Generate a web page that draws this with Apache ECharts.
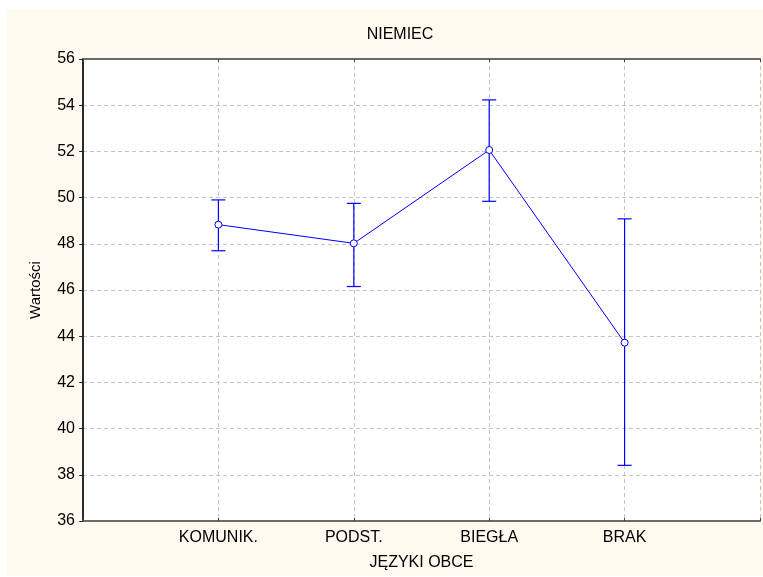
<!DOCTYPE html>
<html>
<head>
<meta charset="utf-8">
<script src="https://cdn.jsdelivr.net/npm/echarts@6/dist/echarts.min.js"></script>
<style>
html,body{margin:0;padding:0;background:#ffffff;}
#chart{width:763px;height:577px;}
</style>
</head>
<body>
<div id="chart"></div>
<script>
const categories = ['KOMUNIK.', 'PODST.', 'BIEGŁA', 'BRAK'];
const means = [48.83, 48.02, 52.06, 43.72];
const lower = [47.70, 46.15, 49.84, 38.41];
const upper = [49.90, 49.75, 54.23, 49.08];
const yTicks = [36, 38, 40, 42, 44, 46, 48, 50, 52, 54, 56];

const FONT = '"Liberation Sans", Arial, sans-serif';
const chart = echarts.init(document.getElementById('chart'), null, {renderer: 'canvas'});

const lineData = means.map((v, i) => [i + 1, v]);
const errData = categories.map((c, i) => [i + 1, lower[i], upper[i]]);
const yMin = yTicks[0], yMax = yTicks[yTicks.length - 1];

chart.setOption({
  animation: false,
  backgroundColor: 'transparent',
  graphic: [{
    type: 'rect', z: -10, silent: true,
    shape: {x: 7, y: 10, width: 756, height: 566},
    style: {fill: '#fffaf0'}
  }],
  title: {
    text: 'NIEMIEC',
    left: 395, top: 22, textAlign: 'center',
    textStyle: {fontFamily: FONT, fontSize: 16, fontWeight: 'normal', color: '#000'}
  },
  grid: {
    left: 83, top: 59, right: 3, bottom: 56,
    show: true, borderColor: '#6a6a6a', borderWidth: 0, backgroundColor: '#ffffff'
  },
  xAxis: [{
    type: 'value', min: 0, max: 5, interval: 1,
    name: 'JĘZYKI OBCE', nameLocation: 'middle', nameGap: 34,
    nameTextStyle: {fontFamily: FONT, fontSize: 16, color: '#000'},
    axisLine: {show: true, lineStyle: {color: '#6a6a6a', width: 2}},
    axisTick: {show: true, inside: true, length: 3, lineStyle: {color: '#444'}},
    axisLabel: {
      margin: 9, fontFamily: FONT, fontSize: 16, color: '#000',
      formatter: v => categories[v - 1] || ''
    },
    splitLine: {show: true, lineStyle: {color: '#c4c4c4', type: [4, 3], width: 1}}
  }, {
    type: 'value', min: 0, max: 5, interval: 1, position: 'top',
    axisLine: {show: true, lineStyle: {color: '#6a6a6a', width: 2}},
    axisTick: {show: true, inside: true, length: 3, lineStyle: {color: '#444'}},
    axisLabel: {show: false}, splitLine: {show: false}
  }],
  yAxis: [{
    type: 'value', min: yMin, max: yMax, interval: 2,
    name: 'Wartości', nameLocation: 'middle', nameGap: 40,
    nameTextStyle: {fontFamily: FONT, fontSize: 15, color: '#000'},
    axisLine: {show: true, lineStyle: {color: '#6a6a6a', width: 2}},
    axisTick: {show: true, inside: false, length: 4, lineStyle: {color: '#444'}},
    axisLabel: {margin: 8, fontFamily: FONT, fontSize: 16, color: '#000'},
    splitLine: {show: true, lineStyle: {color: '#c4c4c4', type: [4, 3], width: 1}}
  }, {
    type: 'value', min: yMin, max: yMax, interval: 2, position: 'right',
    axisLine: {show: true, lineStyle: {color: '#2a2a2a', width: 2}},
    axisTick: {show: true, inside: true, length: 3, lineStyle: {color: '#222'}},
    axisLabel: {show: false}, splitLine: {show: false}
  }],
  series: [
    {
      type: 'custom',
      data: errData,
      z: 3,
      renderItem: function (params, api) {
        const x = api.value(0);
        const lo = api.coord([x, api.value(1)]);
        const hi = api.coord([x, api.value(2)]);
        const w = 7;
        const st = {stroke: '#0000ff', lineWidth: 1.2};
        return {
          type: 'group',
          children: [
            {type: 'line', shape: {x1: lo[0], y1: lo[1], x2: hi[0], y2: hi[1]}, style: st},
            {type: 'line', shape: {x1: lo[0] - w, y1: lo[1], x2: lo[0] + w, y2: lo[1]}, style: st},
            {type: 'line', shape: {x1: hi[0] - w, y1: hi[1], x2: hi[0] + w, y2: hi[1]}, style: st}
          ]
        };
      }
    },
    {
      type: 'line',
      data: lineData,
      z: 4,
      symbol: 'circle', symbolSize: 7,
      lineStyle: {color: '#0000ff', width: 1},
      itemStyle: {color: '#ffffff', borderColor: '#0000ff', borderWidth: 1}
    }
  ]
});
</script>
</body>
</html>
